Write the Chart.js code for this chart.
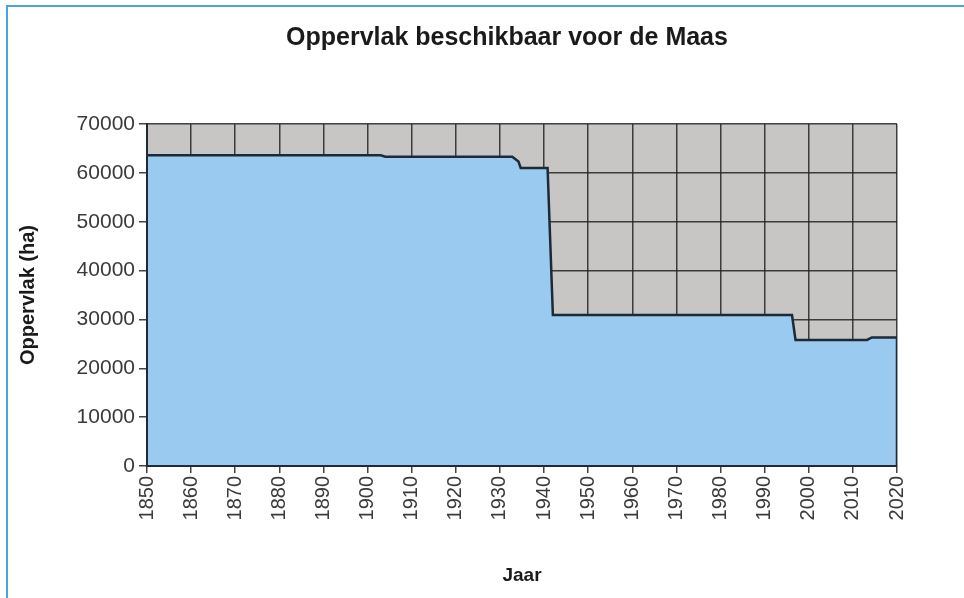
<!DOCTYPE html>
<html>
<head>
<meta charset="utf-8">
<script src="https://cdn.jsdelivr.net/npm/chart.js@4/dist/chart.umd.min.js"></script>
<style>
  html, body { margin: 0; padding: 0; background: #fff; }
  #wrap { position: relative; width: 964px; height: 598px; }
  #frame {
    position: absolute; left: 6px; top: 5px; right: 0; bottom: 0;
    border-top: 2px solid #4aa2df; border-left: 2px solid #4aa2df;
    pointer-events: none;
  }
</style>
</head>
<body>
<div id="wrap">
  <canvas id="maasChart"></canvas>
  <div id="frame"></div>
</div>
<script>
// jaartallen en oppervlak (ha)
const years = [1850, 1903, 1904, 1932.8, 1934.2, 1934.7, 1940.8, 1942, 1996.2, 1997, 2013.2, 2014.3, 2020, 2020];
const area  = [63600, 63600, 63300, 63300, 62300, 61000, 61000, 30900, 30900, 25800, 25800, 26300, 26300, 0];

const yTicks = [0, 10000, 20000, 30000, 40000, 50000, 60000, 70000];
const xMin = 1850, xMax = 2020;

const chartTitle = "Oppervlak beschikbaar voor de Maas";
const xTitle = "Jaar";
const yTitle = "Oppervlak (ha)";

const FONT = "'Liberation Sans', Arial, sans-serif";

const points = years.map((y, i) => ({ x: y, y: area[i] }));

// grijze achtergrond van het plotvlak
const plotBg = {
  id: "plotBg",
  beforeDraw(chart) {
    const { ctx, chartArea: a } = chart;
    ctx.save();
    ctx.fillStyle = "#c8c6c4";
    ctx.fillRect(a.left, a.top, a.right - a.left, a.bottom - a.top);
    ctx.restore();
  }
};

// assen opnieuw over de vulling tekenen + titel
const axesOnTop = {
  id: "axesOnTop",
  afterDatasetsDraw(chart) {
    const { ctx, chartArea: a } = chart;
    ctx.save();
    ctx.strokeStyle = "#1e2a36";
    ctx.lineWidth = 2;
    ctx.beginPath();
    ctx.moveTo(a.left, a.top);
    ctx.lineTo(a.left, a.bottom);
    ctx.lineTo(a.right, a.bottom);
    ctx.stroke();
    ctx.restore();
  },
  afterDraw(chart) {
    const ctx = chart.ctx;
    ctx.save();
    ctx.font = "bold 25px " + FONT;
    ctx.fillStyle = "#1a1a1a";
    ctx.textAlign = "center";
    ctx.textBaseline = "middle";
    ctx.fillText(chartTitle, 507, 38);
    ctx.restore();
  }
};

const gridColor = "rgba(35,35,35,0.85)";

new Chart(document.getElementById("maasChart"), {
  type: "line",
  data: {
    datasets: [{
      label: yTitle,
      data: points,
      borderColor: "#1c2a38",
      borderWidth: 2.5,
      backgroundColor: "rgb(154,202,239)",
      fill: "origin",
      tension: 0,
      pointRadius: 0
    }]
  },
  options: {
    responsive: true,
    maintainAspectRatio: false,
    animation: false,
    layout: { padding: { top: 124, right: 67, left: 0, bottom: 0 } },
    plugins: { legend: { display: false }, tooltip: { enabled: false }, title: { display: false } },
    scales: {
      x: {
        type: "linear",
        min: xMin,
        max: xMax,
        afterFit: s => { s.height = 132; },
        ticks: {
          stepSize: 10,
          minRotation: 90,
          maxRotation: 90,
          padding: 3,
          color: "#3a3a3a",
          font: { family: FONT, size: 20 },
          callback: v => String(v)
        },
        grid: { color: gridColor, lineWidth: 1.5, tickLength: 7 },
        border: { display: true, color: "#1e2a36", width: 2 },
        title: {
          display: true,
          text: xTitle,
          color: "#1a1a1a",
          font: { family: FONT, size: 19, weight: "bold" },
          padding: { top: 0, bottom: 11 }
        }
      },
      y: {
        min: 0,
        max: 70000,
        afterFit: s => { s.width = 147; },
        afterBuildTicks: s => { s.ticks = yTicks.map(v => ({ value: v })); },
        ticks: {
          padding: 4,
          color: "#3a3a3a",
          font: { family: FONT, size: 21 },
          callback: v => String(v)
        },
        grid: { color: gridColor, lineWidth: 1.5, tickLength: 8 },
        border: { display: true, color: "#1e2a36", width: 2 },
        title: {
          display: true,
          text: yTitle,
          color: "#1a1a1a",
          font: { family: FONT, size: 20, weight: "bold" },
          padding: { top: 16, bottom: 0 }
        }
      }
    }
  },
  plugins: [plotBg, axesOnTop]
});
</script>
</body>
</html>
